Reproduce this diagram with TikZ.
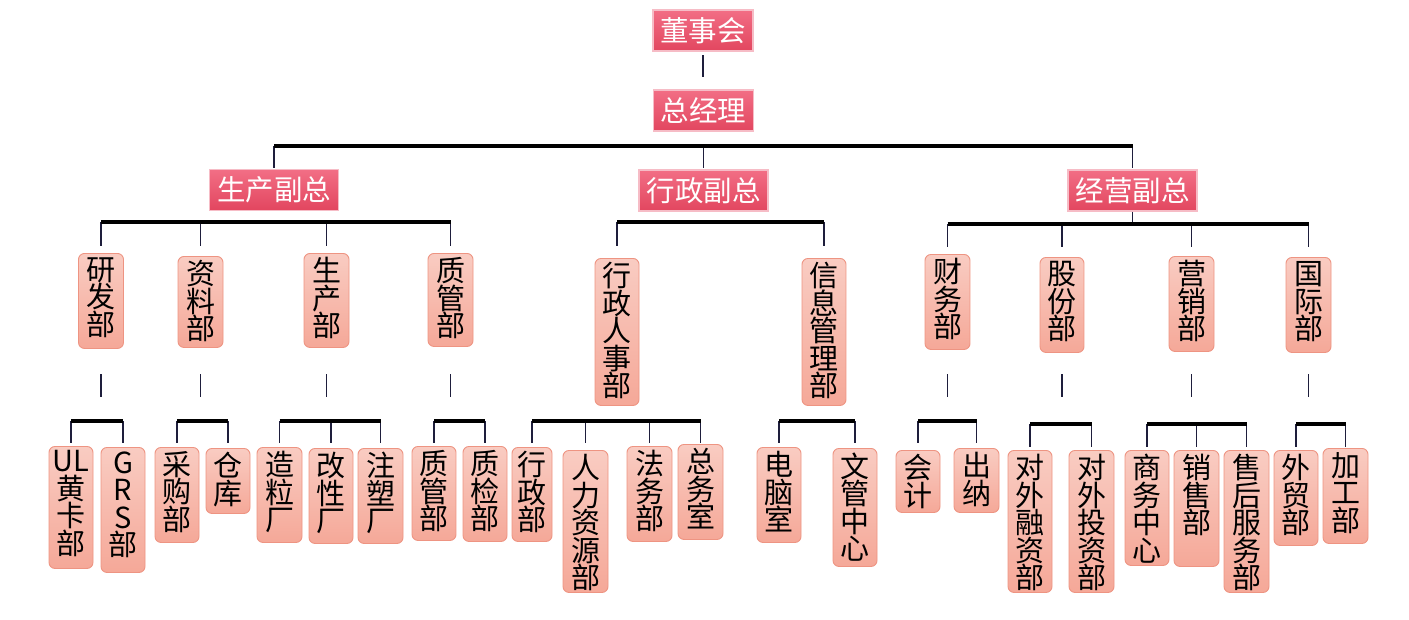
\documentclass[tikz,border=0pt]{standalone}
\usepackage{fontspec}
\newfontfamily\cjk{Noto Sans CJK SC}
\usetikzlibrary{calc}
\definecolor{topA}{HTML}{F26E85}
\definecolor{topB}{HTML}{E2465F}
\definecolor{glowc}{HTML}{F6BCC6}
\definecolor{boxA}{HTML}{F9CCC2}
\definecolor{boxB}{HTML}{F5A898}
\definecolor{boxD}{HTML}{EE9482}
\definecolor{vcol}{HTML}{1E1E3C}
\newcommand\vt[3]{\parbox[t][#1pt][t]{#2pt}{\centering\vspace*{4pt}#3}}
\newcommand\brk[4]{%
  \foreach \n in {#3} \draw[vl] (\n |- B#4) -- (\n |- B#4b);
  \draw[hl] (#1 |- B#4) -- (#2 |- B#4);}
\begin{document}
\begin{tikzpicture}[x=1pt,y=-1pt,
  topbox/.style={draw=glowc, line width=1.5pt, top color=topA, bottom color=topB,
    text=white, minimum width=#1, minimum height=41pt, inner sep=0pt,
    font=\cjk\fontsize{28.5}{30}\selectfont},
  topbox/.default=100pt,
  deptbox/.style={draw=boxD, line width=0.9pt, rounded corners=6pt,
    top color=boxA, bottom color=boxB, inner sep=0pt, anchor=north,
    font=\cjk\fontsize{29}{27.5}\selectfont},
  vl/.style={draw=vcol, line width=1.5pt},
  hl/.style={draw=black, line width=3.2pt},
]
\useasboundingbox[fill=white] (0,0) rectangle (1409,619);

% top level
\node[topbox=100pt] (dsh) at (703,30.5) {董事会};
\node[topbox=100pt] (zjl) at (703.5,110.5) {总经理};
\node[topbox=129pt] (scfz) at (274,190) {生产副总};
\node[topbox=129pt] (xzfz) at (703.5,190.5) {行政副总};
\node[topbox=129pt] (jyfz) at (1132.5,190.5) {经营副总};

% level 3
\node[deptbox] (yf) at (101,253) {\vt{95}{45}{研\\发\\部}};
\node[deptbox] (zl) at (200.5,256) {\vt{91}{45}{资\\料\\部}};
\node[deptbox] (sc) at (326.5,253) {\vt{94}{45}{生\\产\\部}};
\node[deptbox] (zg) at (450.5,253) {\vt{93}{45}{质\\管\\部}};
\node[deptbox] (xr) at (617,258) {\vt{147}{44}{行\\政\\人\\事\\部}};
\node[deptbox] (xx) at (824,258) {\vt{147}{44}{信\\息\\管\\理\\部}};
\node[deptbox] (cw) at (947.5,254) {\vt{95}{45}{财\\务\\部}};
\node[deptbox] (gf) at (1062,257) {\vt{95}{44}{股\\份\\部}};
\node[deptbox] (yx) at (1191.5,256) {\vt{95}{45}{营\\销\\部}};
\node[deptbox] (gj) at (1308.5,257) {\vt{95}{45}{国\\际\\部}};

% level 4
\node[deptbox] (ul) at (71,446) {\vt{122}{44}{UL\\黄\\卡\\部}};
\node[deptbox] (grs) at (123,447) {\vt{125}{44}{G\\R\\S\\部}};
\node[deptbox] (cg) at (177,447) {\vt{95}{44}{采\\购\\部}};
\node[deptbox] (ck) at (228,448) {\vt{65}{44}{仓\\库}};
\node[deptbox] (zlc) at (279.5,447) {\vt{95}{45}{造\\粒\\厂}};
\node[deptbox] (gx) at (331,448) {\vt{95}{44}{改\\性\\厂}};
\node[deptbox] (zs) at (380.5,448) {\vt{95}{45}{注\\塑\\厂}};
\node[deptbox] (zgb) at (434,446) {\vt{94}{44}{质\\管\\部}};
\node[deptbox] (zj) at (485,446) {\vt{95}{44}{质\\检\\部}};
\node[deptbox] (xzb) at (532,447) {\vt{94}{40}{行\\政\\部}};
\node[deptbox] (rl) at (585.5,450) {\vt{142}{45}{人\\力\\资\\源\\部}};
\node[deptbox] (fw) at (649.5,446) {\vt{95}{45}{法\\务\\部}};
\node[deptbox] (zw) at (700.5,444) {\vt{95}{45}{总\\务\\室}};
\node[deptbox] (dn) at (779,447) {\vt{95}{44}{电\\脑\\室}};
\node[deptbox] (wg) at (855,448) {\vt{118}{44}{文\\管\\中\\心}};
\node[deptbox] (kj) at (918,450) {\vt{62}{44}{会\\计}};
\node[deptbox] (cn) at (976.5,448) {\vt{64}{45}{出\\纳}};
\node[deptbox] (drz) at (1030,450) {\vt{142}{44}{对\\外\\融\\资\\部}};
\node[deptbox] (dtz) at (1091.5,450) {\vt{142}{45}{对\\外\\投\\资\\部}};
\node[deptbox] (swzx) at (1147,450) {\vt{115}{44}{商\\务\\中\\心}};
\node[deptbox] (xs) at (1196.5,450) {\vt{116}{45}{销\\售\\部}};
\node[deptbox] (sh) at (1246.5,450) {\vt{142}{45}{售\\后\\服\\务\\部}};
\node[deptbox] (wm) at (1296,450) {\vt{95}{44}{外\\贸\\部}};
\node[deptbox] (jg) at (1345.5,448) {\vt{95}{45}{加\\工\\部}};

% guide levels
\coordinate (Ya) at (0,55);   \coordinate (Yb) at (0,77);
\coordinate (H1) at (0,146);  \coordinate (H1b) at (0,168);
\coordinate (H2) at (0,222);  \coordinate (H2b) at (0,246);
\coordinate (H3) at (0,224);  \coordinate (H3b) at (0,247);
\coordinate (T1) at (0,374);  \coordinate (T2) at (0,397);
\coordinate (B1) at (0,421);  \coordinate (B1b) at (0,443);
\coordinate (B2) at (0,424);  \coordinate (B2b) at (0,447);

% connectors top
\draw[vl] (dsh |- Ya) -- (dsh |- Yb);
\foreach \n in {scfz,xzfz,jyfz} \draw[vl] (\n |- H1) -- (\n |- H1b);
\draw[hl] (scfz |- H1) -- (jyfz |- H1);

% level 2 brackets
\foreach \n in {yf,zl,sc,zg,xr,xx} \draw[vl] (\n |- H2) -- (\n |- H2b);
\draw[hl] (yf |- H2) -- (zg |- H2);
\draw[hl] (xr |- H2) -- (xx |- H2);
\foreach \n in {cw,gf,yx,gj} \draw[vl] (\n |- H3) -- (\n |- H3b);
\draw[vl] (jyfz.south) -- (jyfz |- H3);
\draw[hl] (cw |- H3) -- (gj |- H3);

% level 3 lower ticks
\foreach \n in {yf,zl,sc,zg,cw,gf,yx,gj} \draw[vl] (\n |- T1) -- (\n |- T2);

% level 4 brackets
\brk{ul}{grs}{ul,grs}{1}
\brk{cg}{ck}{cg,ck}{1}
\brk{zlc}{zs}{zlc,gx,zs}{1}
\brk{zgb}{zj}{zgb,zj}{1}
\brk{xzb}{zw}{xzb,rl,fw,zw}{1}
\brk{dn}{wg}{dn,wg}{1}
\brk{kj}{cn}{kj,cn}{1}
\brk{drz}{dtz}{drz,dtz}{2}
\brk{swzx}{sh}{swzx,xs,sh}{2}
\brk{wm}{jg}{wm,jg}{2}
\end{tikzpicture}
\end{document}
